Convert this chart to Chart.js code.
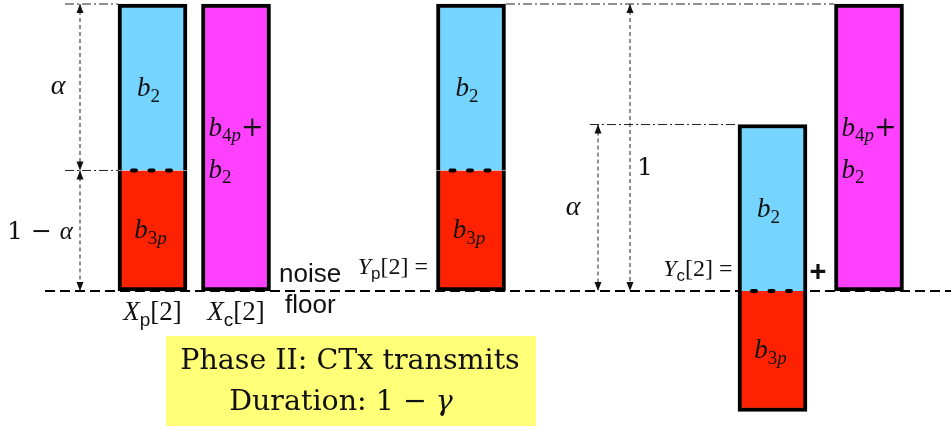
<!DOCTYPE html>
<html>
<head>
<meta charset="utf-8">
<script src="https://cdn.jsdelivr.net/npm/chart.js@4.4.1/dist/chart.umd.min.js"></script>
<style>
  html, body { margin: 0; padding: 0; background: #fff; }
  #wrap { width: 951px; height: 428px; }
</style>
</head>
<body>
<div id="wrap"><canvas id="diagram" width="951" height="428"></canvas></div>
<script>
// share of the power that sits above the split
const alpha = 0.58;

// horizontal slot of each bar: Xp[2], Xc[2], Yp[2], Yc[2], extra b4p+b2 bar
const barSlots = [152.5, 236, 471, 772.5, 869];

// [bottom, top] of each part, null when the bar has no such part
const b2Part = [[1 - alpha, 1], null, [1 - alpha, 1], [0, alpha], null];
const b3pPart = [[0, 1 - alpha], null, [0, 1 - alpha], [-(1 - alpha), 0], null];
const b4pPart = [null, [0, 1], null, null, [0, 1]];

// double arrows: [x, from, to]
const arrows = [[80, 1, 1 - alpha], [80, 1 - alpha, 0], [630, 1, 0], [598, alpha, 0]];

// dash-dot guide lines: [xStart, xEnd, level]
const guides = [[65, 118, 1], [65, 118, 1 - alpha], [506, 834, 1], [590, 738, alpha]];

const BLUE = 'rgb(117, 213, 255)';
const RED = 'rgb(255, 34, 0)';
const MAGENTA = 'rgb(255, 64, 255)';

function toPoints(parts) {
    const pts = [];
    parts.forEach((p, i) => {
        if (p) pts.push({ x: barSlots[i], y: p });
    });
    return pts;
}

function barSet(parts, color, border) {
    return {
        type: 'bar',
        data: toPoints(parts),
        backgroundColor: color,
        borderColor: '#000',
        borderWidth: border,
        borderSkipped: false,
        barThickness: 69,
        grouped: false,
        order: 2
    };
}

function lineSet(points, opts) {
    return Object.assign({
        type: 'line',
        data: points,
        borderColor: '#000',
        borderWidth: 1,
        pointRadius: 0,
        fill: false,
        tension: 0,
        order: 4
    }, opts);
}

const datasets = [];
datasets.push(barSet(b2Part, BLUE, { top: 4, left: 4, right: 4, bottom: 0 }));
datasets.push(barSet(b3pPart, RED, { top: 0, left: 4, right: 4, bottom: 4 }));
datasets.push(barSet(b4pPart, MAGENTA, 4));

// noise floor
datasets.push(lineSet([{ x: 45, y: 0 }, { x: 951, y: 0 }], {
    borderWidth: 2, borderDash: [10, 5], order: 6
}));

// dotted split between b2 and b3p
b2Part.forEach((p, i) => {
    if (!p || !b3pPart[i]) return;
    datasets.push(lineSet([{ x: barSlots[i] - 20.5, y: p[0] }, { x: barSlots[i] + 18.5, y: p[0] }], {
        borderWidth: 4, borderDash: [4, 13.5], borderCapStyle: 'round', order: 0
    }));
});

guides.forEach(g => {
    datasets.push(lineSet([{ x: g[0], y: g[2] }, { x: g[1], y: g[2] }], {
        borderColor: '#222', borderDash: [9, 3, 2, 3]
    }));
});

arrows.forEach(a => {
    datasets.push(lineSet([{ x: a[0], y: a[1] }, { x: a[0], y: a[2] }], {
        borderColor: '#222', borderDash: [4, 3]
    }));
});

// --- text helpers -------------------------------------------------------
const SERIF = '"Liberation Serif", "DejaVu Serif", serif';
const SANS = '"Liberation Sans", Arial, sans-serif';

function runFont(style, size) {
    const sub = style.length > 1;
    const s = sub ? Math.round(size * 0.7) : size;
    const kind = sub ? style[1] : style[0];
    if (kind === 'i') return 'italic ' + s + 'px ' + SERIF;
    if (kind === 'f') return s + 'px ' + SANS;
    if (kind === 'd') return s + 'px "DejaVu Serif", serif';
    if (kind === 'g') return 'italic ' + s + 'px "DejaVu Serif", serif';
    return s + 'px ' + SERIF;
}

// runs: [[text, style]], style 'i' italic, 'r' roman, 's?' subscript
function drawRuns(ctx, runs, x, y, size, align) {
    let total = 0;
    runs.forEach(r => {
        ctx.font = runFont(r[1], size);
        total += ctx.measureText(r[0]).width;
    });
    let cx = align === 'center' ? x - total / 2 : align === 'right' ? x - total : x;
    ctx.textAlign = 'left';
    ctx.textBaseline = 'alphabetic';
    runs.forEach(r => {
        ctx.font = runFont(r[1], size);
        const dy = r[1].length > 1 ? size * 0.22 : 0;
        ctx.fillText(r[0], cx, y + dy);
        cx += ctx.measureText(r[0]).width;
    });
}

const labelsPlugin = {
    id: 'diagramLabels',
    afterDatasetsDraw(chart) {
        const ctx = chart.ctx;
        const xs = chart.scales.x;
        const ys = chart.scales.y;
        const px = v => xs.getPixelForValue(v);
        const py = v => ys.getPixelForValue(v);
        ctx.save();
        ctx.fillStyle = '#111';

        // arrow heads
        arrows.forEach(a => {
            const x = px(a[0]);
            [[a[1], a[2]], [a[2], a[1]]].forEach(e => {
                const tip = py(e[0]);
                const dir = py(e[1]) > tip ? 1 : -1;
                ctx.beginPath();
                ctx.moveTo(x, tip);
                ctx.lineTo(x - 3.5, tip + dir * 9);
                ctx.lineTo(x + 3.5, tip + dir * 9);
                ctx.closePath();
                ctx.fill();
            });
        });

        // segment labels
        const b2 = [['b', 'i'], ['2', 'sr']];
        const b3p = [['b', 'i'], ['3', 'sr'], ['p', 'si']];
        b2Part.forEach((p, i) => {
            if (p) drawRuns(ctx, b2, px(barSlots[i]) - 4, (py(p[0]) + py(p[1])) / 2 + 9, 27, 'center');
        });
        b3pPart.forEach((p, i) => {
            if (p) drawRuns(ctx, b3p, px(barSlots[i]) - 2, (py(p[0]) + py(p[1])) / 2 + 7, 27, 'center');
        });
        b4pPart.forEach((p, i) => {
            if (!p) return;
            const left = px(barSlots[i]) - 34.5 + 7;
            const mid = (py(p[0]) + py(p[1])) / 2;
            drawRuns(ctx, [['b', 'i'], ['4', 'sr'], ['p', 'si'], ['+', 'd']], left, mid - 12, 27, 'left');
            drawRuns(ctx, b2, left, mid + 30, 27, 'left');
        });

        // bar names
        drawRuns(ctx, [['X', 'i'], ['p', 'sf'], ['[2]', 'r']], px(barSlots[0]), 320, 27, 'center');
        drawRuns(ctx, [['X', 'i'], ['c', 'sf'], ['[2]', 'r']], px(barSlots[1]), 320, 27, 'center');
        drawRuns(ctx, [['Y', 'i'], ['p', 'sf'], ['[2] =', 'r']], px(barSlots[2]) - 43, 274, 24, 'right');
        drawRuns(ctx, [['Y', 'i'], ['c', 'sf'], ['[2] =', 'r']], px(barSlots[3]) - 40, 276, 24, 'right');

        // dimension labels
        drawRuns(ctx, [['α', 'i']], 58, py((1 + (1 - alpha)) / 2) + 7, 28, 'center');
        drawRuns(ctx, [['1 − ', 'd'], ['α', 'i']], 40, py((1 - alpha) / 2) + 8, 25, 'center');
        drawRuns(ctx, [['α', 'i']], 573, py(alpha / 2) + 7, 28, 'center');
        drawRuns(ctx, [['1', 'd']], 645, 175, 25, 'center');

        // noise floor caption and plus sign
        ctx.font = '26px ' + SANS;
        ctx.textAlign = 'left';
        ctx.fillText('noise', 279, 282);
        ctx.fillText('floor', 285, 313);
        ctx.font = 'bold 29px ' + SANS;
        ctx.textAlign = 'center';
        ctx.fillText('+', 818, 281);

        // phase box
        ctx.fillStyle = 'rgb(255, 255, 120)';
        ctx.fillRect(166, 336, 370, 90);
        ctx.fillStyle = '#111';
        drawRuns(ctx, [['Phase II: CTx transmits', 'd']], 350, 369, 28.5, 'center');
        drawRuns(ctx, [['Duration: 1 − ', 'd'], ['γ', 'g']], 341, 410, 28.5, 'center');
        ctx.restore();
    }
};

new Chart(document.getElementById('diagram'), {
    type: 'bar',
    data: { datasets: datasets },
    options: {
        responsive: false,
        animation: false,
        devicePixelRatio: 1,
        layout: { padding: 0 },
        plugins: { legend: { display: false }, tooltip: { enabled: false } },
        scales: {
            x: { type: 'linear', min: 0, max: 951, offset: false, display: false },
            y: { min: -137 / 287, max: 291 / 287, display: false }
        }
    },
    plugins: [labelsPlugin]
});
</script>
</body>
</html>
